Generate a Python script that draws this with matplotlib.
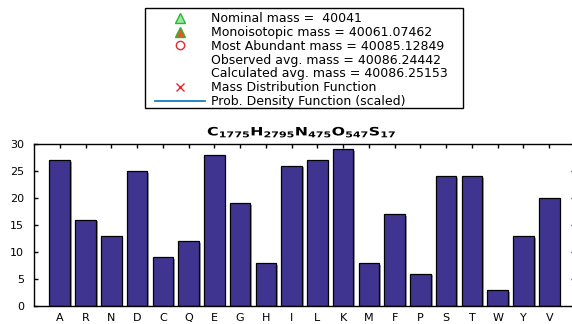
import matplotlib
matplotlib.use("Agg")
import matplotlib.pyplot as plt
import matplotlib.patheffects as pe
from matplotlib.lines import Line2D
from matplotlib.patches import Rectangle
from matplotlib.transforms import Affine2D

# Amino-acid composition of the protein
residues = ["A", "R", "N", "D", "C", "Q", "E", "G", "H", "I",
            "L", "K", "M", "F", "P", "S", "T", "W", "Y", "V"]
counts = [27, 16, 13, 25, 9, 12, 28, 19, 8, 26,
          27, 29, 8, 17, 6, 24, 24, 3, 13, 20]
yticks = [0, 5, 10, 15, 20, 25, 30]

formula = r"$\mathbf{C_{1775}H_{2795}N_{475}O_{547}S_{17}}$"

legend_labels = [
    "Nominal mass =  40041",
    "Monoisotopic mass = 40061.07462",
    "Most Abundant mass = 40085.12849",
    "Observed avg. mass = 40086.24442",
    "Calculated avg. mass = 40086.25153",
    "Mass Distribution Function",
    "Prob. Density Function (scaled)",
]


class HStretch(pe.AbstractPathEffect):
    """Widen glyphs horizontally about the text origin."""

    def __init__(self, sx):
        super().__init__()
        self.sx = sx

    def draw_path(self, renderer, gc, tpath, affine, rgbFace=None):
        renderer.draw_path(gc, tpath, Affine2D().scale(self.sx, 1.0) + affine, rgbFace)


plt.rcParams["font.family"] = ["DejaVu Sans"]
plt.rcParams["mathtext.fontset"] = "dejavusans"

W, H = 572, 324
fig = plt.figure(figsize=(W / 100, H / 100), dpi=100)
fig.patch.set_facecolor("white")


def fx(px):
    return px / W


def fy(py):
    return 1 - py / H


left, right, top, bottom = 34, 575, 144, 306
ax = fig.add_axes([fx(left), fy(bottom), (right - left) / W, (bottom - top) / H])

pos = list(range(1, len(residues) + 1))
bars = ax.bar(pos, counts, width=0.8, color="#3f3590", edgecolor="black",
              linewidth=0.9, zorder=2)
for b in bars:
    b.set_path_effects([pe.SimplePatchShadow(offset=(1.3, -1.3),
                                             shadow_rgbFace="0.62", alpha=1.0),
                        pe.Normal()])

ax.set_xlim(0, len(residues) + 1)
ax.set_ylim(0, 30)
ax.set_xticks(pos)
ax.set_xticklabels(residues)
ax.set_yticks(yticks)
ax.set_axisbelow(True)
ax.tick_params(direction="in", length=3, width=1, labelsize=8, top=True,
               right=True, color="black")
ax.tick_params(axis="x", pad=5)
ax.tick_params(axis="y", pad=7)
for s in ax.spines.values():
    s.set_linewidth(1.0)

# Chemical formula above the bars
fig.text(fx(207), fy(135.5), formula, ha="left", va="baseline", fontsize=8.3,
         path_effects=[HStretch(1.37)])

# Legend for the mass spectrum annotations
handles = [
    Line2D([], [], ls="none", marker="^", ms=7, mfc="#93e6a6", mec="#2fb52f", mew=1),
    Line2D([], [], ls="none", marker="^", ms=7, mfc="#e2582a", mec="#2fb52f", mew=1),
    Line2D([], [], ls="none", marker="o", ms=6, mfc="none", mec="#e8262c", mew=1),
    Line2D([], [], ls="none", marker="none"),
    Line2D([], [], ls="none", marker="none"),
    Line2D([], [], ls="none", marker="x", ms=6, mec="#e8262c", mew=1),
    Line2D([], [], ls="-", color="#0072bd", lw=1.2),
]
fs = 9.0
fs_px = fs * 100 / 72
leg = fig.legend(handles, legend_labels, loc="upper left",
                 bbox_to_anchor=(fx(155), fy(12)), borderaxespad=0,
                 borderpad=0, fontsize=fs, frameon=False,
                 handlelength=50 / fs_px, handletextpad=6 / fs_px,
                 labelspacing=0.07)

frame = Rectangle((fx(145), fy(108)), (463 - 145) / W, (108 - 8) / H,
                  transform=fig.transFigure, facecolor="white",
                  edgecolor="black", linewidth=1.0, zorder=0)
fig.patches.append(frame)

fig.savefig("out.png", dpi=100, facecolor="white")
